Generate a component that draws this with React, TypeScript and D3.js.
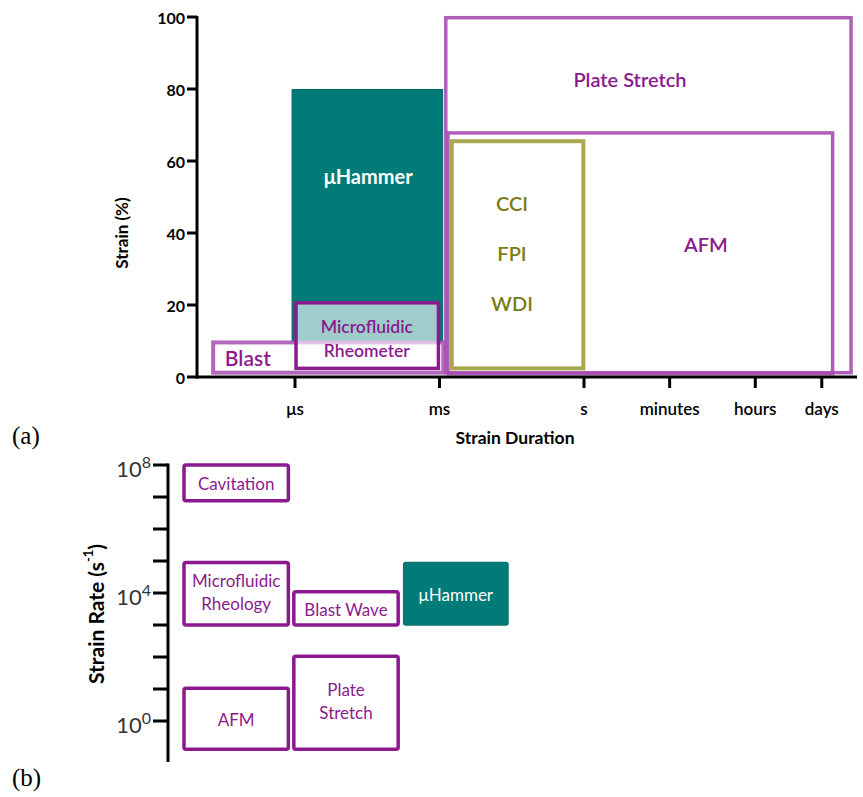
import React from 'react';
import * as d3 from 'd3';

// ---------- Panel (a) data ----------
const durationTickLabels = ['μs', 'ms', 's', 'minutes', 'hours', 'days'];
const durationTickSeconds = [1e-6, 1e-3, 1, 60, 3600, 86400];
const strainTicks = [0, 20, 40, 60, 80, 100];

const methodsA = ['Plate Stretch', 'AFM', 'CCI/FPI/WDI', 'μHammer', 'Blast', 'Microfluidic Rheometer'];
const durStartA = [1.35e-3, 1.5e-3, 1.8e-3, 8.8e-7, 2.0e-8, 1.05e-6];
const durEndA = [3.5e5, 1.45e5, 0.97, 1.15e-3, 1.2e-3, 0.95e-3];
const strainLowA = [1.2, 0.9, 2.4, 10, 1.2, 2.4];
const strainHighA = [99.8, 67.8, 65.5, 79.8, 9.6, 20.6];
const kindA = ['light', 'light', 'olive', 'teal', 'blast', 'dark'];
// label anchors (seconds, strain) and lines
const labelDurA = [9, 340, 0.032, 3.3e-5, 1.05e-7, 3.1e-5];
const labelStrainA = [82.8, 37, 48.3, 55.8, 5.4, 13.9];
const labelLinesA = [['Plate Stretch'], ['AFM'], ['CCI', 'FPI', 'WDI'], ['μHammer'], ['Blast'], ['Microfluidic', 'Rheometer']];

// ---------- Panel (b) data ----------
const methodsB = ['Cavitation', 'Microfluidic Rheology', 'Blast Wave', 'μHammer', 'AFM', 'Plate Stretch'];
const columnB = ['c0', 'c0', 'c1', 'c2', 'c0', 'c1'];
const rateLowB = [7.6e6, 1.0e3, 1.0e3, 1.0e3, 0.13, 0.13];
const rateHighB = [1e8, 8.9e4, 1.1e4, 8.9e4, 10.5, 105];
const filledB = [false, false, false, true, false, false];
const labelLinesB = [['Cavitation'], ['Microfluidic', 'Rheology'], ['Blast Wave'], ['μHammer'], ['AFM'], ['Plate', 'Stretch']];
const rateTicksB = [1e0, 1e1, 1e2, 1e3, 1e4, 1e5, 1e6, 1e7, 1e8];
const rateLabelExpB = [0, 4, 8];

const PURPLE = '#8b1a8e';
const PURPLE_LIGHT = '#a64eb0';
const TEAL = '#007b78';
const OLIVE = '#a9a94f';
const OLIVE_TEXT = '#7c7c14';
const FONT = "Lato, 'Open Sans', sans-serif";

export default function App() {
  // Panel (a) scales
  const xA = d3.scaleLog().domain([1e-6, 1]).range([295, 584]);
  const yA = d3.scaleLinear().domain([0, 100]).range([377, 17]);

  // Panel (b) scales
  const xB = d3.scaleBand().domain(['c0', 'c1', 'c2']).range([184, 508]).paddingInner(0.05);
  const yB = d3.scaleLog().domain([1, 1e8]).range([721, 465]);

  const rectA = (i: number) => {
    const x0 = xA(durStartA[i]);
    const x1 = xA(durEndA[i]);
    const y0 = yA(strainHighA[i]);
    const y1 = yA(strainLowA[i]);
    const k = kindA[i];
    let fill = 'none', stroke = PURPLE, sw = 3.5, fo = 1, so = 1;
    if (k === 'light') { stroke = PURPLE_LIGHT; sw = 3.5; so = 0.9; }
    if (k === 'olive') { stroke = OLIVE; sw = 4; }
    if (k === 'teal') { fill = TEAL; stroke = '#0a6e6b'; sw = 1.5; }
    if (k === 'blast') { stroke = PURPLE_LIGHT; sw = 4; so = 0.85; fill = 'white'; }
    if (k === 'dark') { fill = 'white'; fo = 0.62; stroke = PURPLE; sw = 3.5; }
    return (
      <rect key={'ra' + i} x={x0} y={y0} width={x1 - x0} height={y1 - y0}
        fill={fill} fillOpacity={fo} stroke={stroke} strokeWidth={sw} strokeOpacity={so} />
    );
  };

  const labelA = (i: number) => {
    const k = kindA[i];
    const lines = labelLinesA[i];
    const cx = xA(labelDurA[i]);
    const cy = yA(labelStrainA[i]);
    let color = PURPLE, size = 20, weight = 600, gap = 24;
    if (k === 'olive') { color = OLIVE_TEXT; gap = 50; }
    if (k === 'teal') { color = 'white'; weight = 700; }
    if (k === 'dark') { size = 17.5; gap = 24; }
    if (k === 'blast') { size = 21; }
    return lines.map((t, j) => (
      <text key={'la' + i + '_' + j} x={cx} y={cy + j * gap} textAnchor="middle" dominantBaseline="central"
        fill={color} fontSize={size} fontWeight={weight} fontFamily={FONT}>{t}</text>
    ));
  };

  // draw order for panel (a)
  const orderA = [0, 1, 2, 3, 4, 5];

  return (
    <svg width={863} height={797} style={{ position: 'absolute', left: 0, top: 0, background: 'white' }}>
      <rect x={0} y={0} width={863} height={797} fill="white" />
      {/* ===== Panel (a) ===== */}
      {orderA.map(i => rectA(i))}
      {orderA.map(i => labelA(i))}

      {/* y axis (a) */}
      <line x1={197} x2={197} y1={yA(100) - 1} y2={yA(0) + 1.5} stroke="black" strokeWidth={3} />
      {strainTicks.map(t => (
        <g key={'yt' + t}>
          <line x1={187} x2={197} y1={yA(t)} y2={yA(t)} stroke="black" strokeWidth={3} />
          <text x={185} y={yA(t)} textAnchor="end" dominantBaseline="central" fontSize={16}
            fontWeight={700} fontFamily={FONT} fill="black">{t}</text>
        </g>
      ))}
      <text transform={`translate(121,${yA(40)}) rotate(-90)`} textAnchor="middle" dominantBaseline="central"
        fontSize={17} fontWeight={700} fontFamily={FONT} fill="black">Strain (%)</text>

      {/* x axis (a) */}
      <line x1={196} x2={857} y1={yA(0)} y2={yA(0)} stroke="black" strokeWidth={3} />
      {durationTickSeconds.map((s, i) => (
        <g key={'xt' + i}>
          <line x1={xA(s)} x2={xA(s)} y1={yA(0)} y2={yA(0) + 11} stroke="black" strokeWidth={3} />
          <text x={xA(s)} y={408} textAnchor="middle" dominantBaseline="central" fontSize={17}
            fontWeight={600} fontFamily={FONT} fill="black">{durationTickLabels[i]}</text>
        </g>
      ))}
      <text x={515} y={437} textAnchor="middle" dominantBaseline="central" fontSize={17.5}
        fontWeight={700} fontFamily={FONT} fill="black">Strain Duration</text>

      <text x={12} y={444} fontFamily="'Liberation Serif', 'Times New Roman', serif" fontSize={25} fill="black">(a)</text>

      {/* ===== Panel (b) ===== */}
      <line x1={168} x2={168} y1={yB(1e8) - 1.5} y2={762} stroke="black" strokeWidth={3} />
      {rateTicksB.map(r => (
        <line key={'bt' + r} x1={153} x2={168} y1={yB(r)} y2={yB(r)} stroke="black" strokeWidth={3} />
      ))}
      {rateLabelExpB.map(e => (
        <text key={'bl' + e} x={151} y={yB(Math.pow(10, e)) + 12} textAnchor="end" fontSize={22}
          fontWeight={400} fontFamily={FONT} fill="#333">
          10<tspan dy={-9} fontSize={16}>{e}</tspan>
        </text>
      ))}
      <text transform={`translate(95,614) rotate(-90)`} textAnchor="middle" dominantBaseline="central"
        fontSize={21} fontWeight={700} fontFamily={FONT} fill="black">
        Strain Rate (s<tspan dy={-7} fontSize={13}>-1</tspan><tspan dy={7}>)</tspan>
      </text>

      {methodsB.map((m, i) => {
        const x0 = xB(columnB[i]) as number;
        const w = xB.bandwidth();
        const y0 = yB(rateHighB[i]);
        const y1 = yB(rateLowB[i]);
        const filled = filledB[i];
        const lines = labelLinesB[i];
        const cy = (y0 + y1) / 2;
        return (
          <g key={'mb' + i}>
            <rect x={x0} y={y0} width={w} height={y1 - y0} rx={2}
              fill={filled ? TEAL : 'white'} stroke={filled ? '#0d7471' : PURPLE}
              strokeWidth={filled ? 1.5 : 3.5} />
            {lines.map((t, j) => (
              <text key={j} x={x0 + w / 2} y={cy + (j - (lines.length - 1) / 2) * 23 + (lines.length > 1 ? -2 : 1)}
                textAnchor="middle" dominantBaseline="central" fontSize={17} fontWeight={400}
                fontFamily={FONT} fill={filled ? 'white' : PURPLE}>{t}</text>
            ))}
          </g>
        );
      })}

      <text x={12} y={786} fontFamily="'Liberation Serif', 'Times New Roman', serif" fontSize={25} fill="black">(b)</text>
    </svg>
  );
}
